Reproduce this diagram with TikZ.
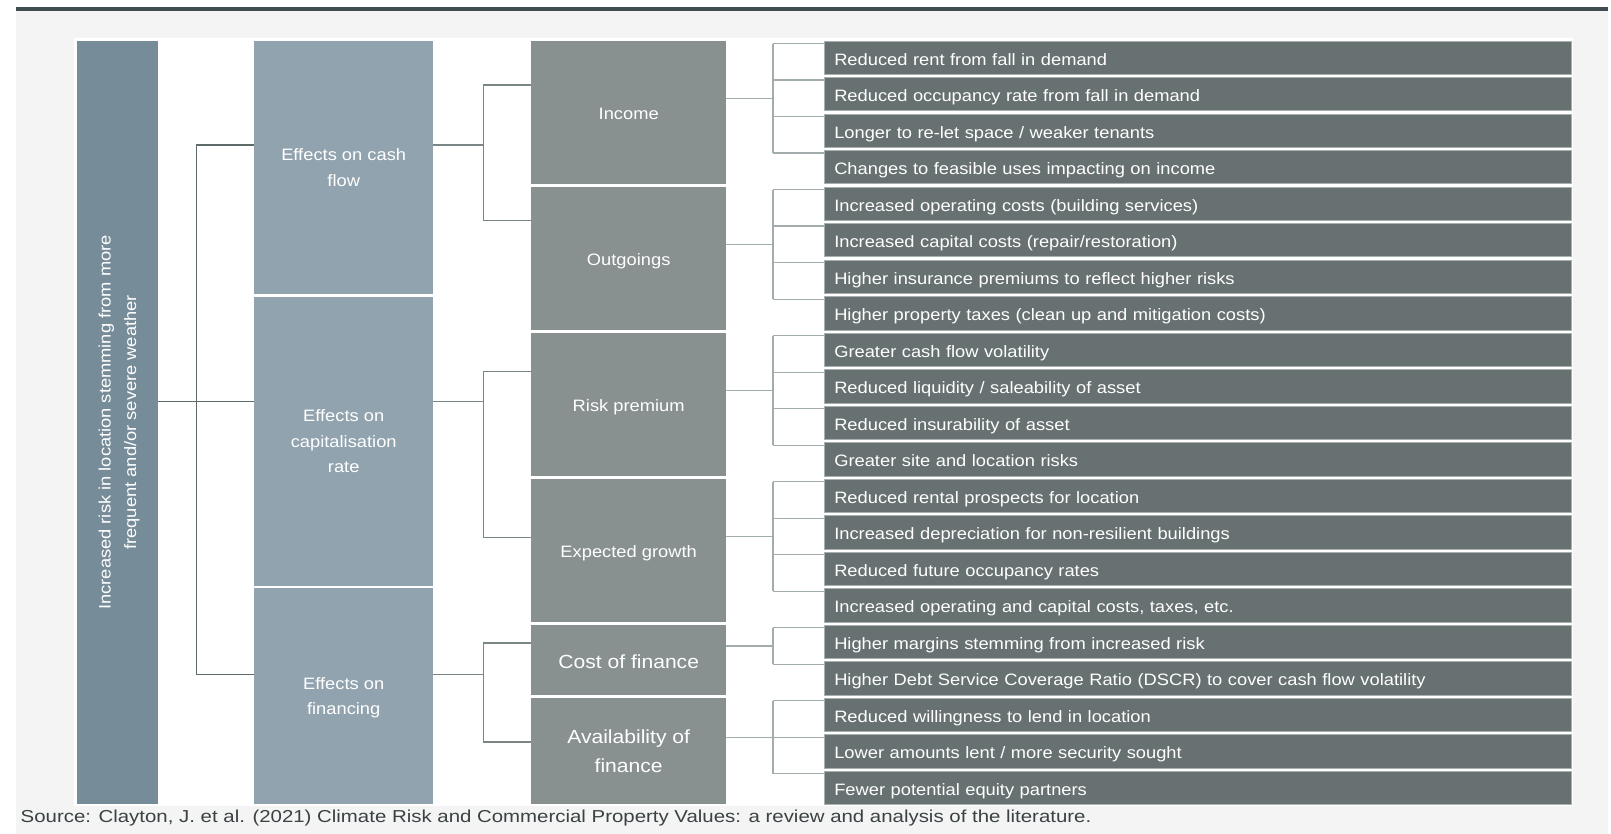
\documentclass[tikz,border=0pt]{standalone}
\usepackage{fontspec}
\setmainfont[FakeStretch=1.11]{Liberation Sans}
\newfontfamily\sourcefont[FakeStretch=1.18]{Liberation Sans}
\usetikzlibrary{calc}

\definecolor{pageGrey}{HTML}{F4F4F4}
\definecolor{barSlate}{HTML}{3F4D50}
\definecolor{rootBlue}{HTML}{778C99}
\definecolor{effBlue}{HTML}{91A3AE}
\definecolor{driverGrey}{HTML}{889090}
\definecolor{leafGrey}{HTML}{677171}
\definecolor{leafEdge}{HTML}{A9B0B0}
\definecolor{linkDark}{HTML}{5F6B6B}
\definecolor{linkMid}{HTML}{7A8686}
\definecolor{linkLight}{HTML}{A3ACAC}
\definecolor{sourceGrey}{HTML}{3A4244}

\begin{document}
\begin{tikzpicture}
    [x=1pt, y=-1pt,
     font=\fontsize{16.5}{25.5}\selectfont,
     block/.style={rectangle, inner sep=0pt, anchor=north west,
                   text=white, align=center, text depth=0pt,
                   execute at begin node={\rule{0pt}{.9em}}},
     effect/.style={block, fill=effBlue, minimum width=179pt},
     driver/.style={block, fill=driverGrey, minimum width=195pt},
     outcome/.style={block, fill=leafGrey, draw=leafEdge, line width=.5pt,
                     minimum width=747pt, minimum height=33.3pt,
                     text width=727pt, align=left},
     rootlink/.style={draw=linkDark, line width=1.4pt},
     midlink/.style={draw=linkMid, line width=1.4pt},
     leaflink/.style={draw=linkLight, line width=1.4pt},
    ]
    \useasboundingbox (0,0) rectangle (1611,834);

    % Page
    \fill[pageGrey] (16,11) rectangle (1608,834);
    \fill[barSlate] (16,7) rectangle (1608,11);
    \fill[white] (74,38) rectangle (1573,806);

    % Root cause
    \node[block, rotate=90, anchor=center, fill=rootBlue,
          minimum width=763.3pt, minimum height=81pt]
        (risk) at (117.5, 422.35)
        {Increased risk in location stemming from more\\frequent and/or severe weather};

    % Effects
    \node[effect, minimum height=253.3pt] (cash) at (254, 40.7) {Effects on cash\\flow};
    \node[effect, minimum height=288.8pt] (cap) at (254, 296.7) {Effects on\\capitalisation\\rate};
    \node[effect, minimum height=216pt] (fin) at (254, 588) {Effects on\\financing};
    \foreach \nm/\dy in {cash/104.3, cap/105, fin/86.5}
        \coordinate (\nm In) at ($(\nm.north west)+(0,\dy)$);

    % Drivers
    \foreach \nm/\ytop/\hgt/\dy/\txt in
             {income/40.7/142.8/44.3/Income, outgo/186.7/142.8/34/Outgoings,
              riskprem/332.7/142.8/39/Risk premium,
              growth/478.7/142.8/59/Expected growth} {
        \node[driver, minimum height=\hgt pt] (\nm) at (531, \ytop) {\txt};
        \coordinate (\nm In) at ($(\nm.north west)+(0,\dy)$);
    }
    \begin{scope}[font=\fontsize{19}{29}\selectfont]
        \node[driver, minimum height=69.8pt] (cost) at (531, 624.7) {Cost of finance};
        \node[driver, minimum height=106.3pt] (avail) at (531, 697.7) {Availability of\\finance};
    \end{scope}
    \coordinate (costIn) at ($(cost.north west)+(0,18.3)$);
    \coordinate (availIn) at ($(avail.north west)+(0,44.3)$);

    % Outcomes
    \foreach \txt [count=\i] in
             {{Reduced rent from fall in demand},
              {Reduced occupancy rate from fall in demand},
              {Longer to re-let space / weaker tenants},
              {Changes to feasible uses impacting on income},
              {Increased operating costs (building services)},
              {Increased capital costs (repair/restoration)},
              {Higher insurance premiums to reflect higher risks},
              {Higher property taxes (clean up and mitigation costs)},
              {Greater cash flow volatility},
              {Reduced liquidity / saleability of asset},
              {Reduced insurability of asset},
              {Greater site and location risks},
              {Reduced rental prospects for location},
              {Increased depreciation for non-resilient buildings},
              {Reduced future occupancy rates},
              {Increased operating and capital costs, taxes, etc.},
              {Higher margins stemming from increased risk},
              {Higher Debt Service Coverage Ratio (DSCR) to cover cash flow volatility},
              {Reduced willingness to lend in location},
              {Lower amounts lent / more security sought},
              {Fewer potential equity partners}} {
        \node[outcome] (l\i) at (824, {40.7+(\i-1)*36.5}) {\txt};
        \coordinate (in\i) at ($(l\i.north west)+(0,3)$);
    }

    % Root bracket
    \coordinate (Jrisk) at ($(risk.south |- capIn)+(38,0)$);
    \draw[rootlink] (risk.south |- capIn) -- (capIn);
    \draw[rootlink] (cashIn) -| (Jrisk |- finIn) -- (finIn);

    % Effect brackets
    \foreach \eff/\kidA/\kidB in {cash/income/outgo, cap/riskprem/growth, fin/cost/avail} {
        \coordinate (J\eff) at ($(\eff.east |- \eff In)+(50,0)$);
        \draw[midlink] (\eff.east |- \eff In) -- (J\eff);
        \draw[midlink] (\kidA In) -| (J\eff |- \kidB In) -- (\kidB In);
    }

    % Driver brackets
    \foreach \nm/\first/\last in {income/1/4, outgo/5/8, riskprem/9/12,
                                  growth/13/16, cost/17/18, avail/19/21} {
        \coordinate (J\nm) at ($(in\first)!.5!(in\last)+(-51,0)$);
        \draw[leaflink] (\nm.east |- J\nm) -- (J\nm);
        \draw[leaflink] (J\nm |- in\first) -- (J\nm |- in\last);
        \foreach \k in {\first,...,\last}
            \draw[leaflink] (J\nm |- in\k) -- (in\k);
    }

    % Source
    \node[anchor=west, inner sep=0pt, text=sourceGrey,
          font=\sourcefont\fontsize{17.3}{20}\selectfont]
        (source) at (20.5, 818)
        {Source: Clayton, J. et al. (2021) Climate Risk and Commercial Property Values: a review and analysis of the literature.};
\end{tikzpicture}
\end{document}
